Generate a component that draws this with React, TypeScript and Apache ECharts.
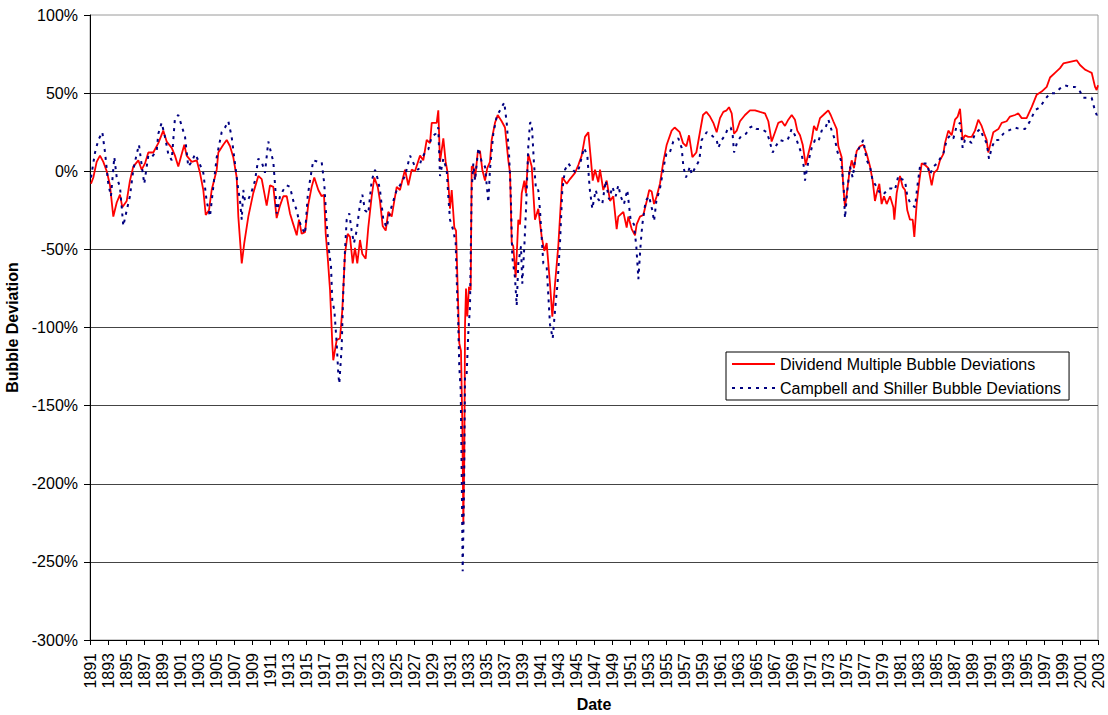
import React, { useEffect, useRef } from "react";
import * as echarts from "echarts";

const seriesNames = [
  "Dividend Multiple Bubble Deviations",
  "Campbell and Shiller Bubble Deviations",
];

// [year, bubble deviation %]
const dividendMultiple: [number, number][] = [
  [1891.11,-8],[1891.37,-4],[1891.74,6],[1892.11,10],[1892.48,6],[1892.86,0],[1893.22,-9],[1893.59,-29],[1893.97,-20],[1894.33,-15],[1894.59,-23],[1895.08,-19],[1895.44,-6],[1895.81,3],[1896.37,7],[1896.74,1],[1897.11,5],[1897.48,12],[1898.03,12],[1898.59,18],[1899.14,26],[1899.52,19],[1900.08,15],[1900.44,10],[1900.81,3],[1901.19,11],[1901.48,17],[1901.74,10],[1902.3,6],[1902.86,7],[1903.22,-1],[1903.59,-12],[1903.86,-28],[1904.22,-25],[1904.52,-12],[1905.08,1],[1905.26,12],[1905.81,17],[1906.19,20],[1906.56,16],[1906.92,9],[1907.3,-4],[1907.48,-29],[1907.86,-59],[1908.14,-46],[1908.59,-29],[1909.14,-14],[1909.7,-3],[1910.08,-5],[1910.63,-22],[1911.0,-9],[1911.37,-10],[1911.74,-30],[1912.11,-22],[1912.48,-16],[1912.86,-16],[1913.22,-27],[1913.59,-34],[1913.97,-41],[1914.22,-31],[1914.52,-40],[1914.89,-39],[1915.26,-21],[1915.63,-10],[1915.92,-4],[1916.37,-12],[1916.74,-16],[1917.0,-15],[1917.19,-40],[1917.41,-55],[1917.67,-76],[1917.92,-110],[1918.03,-121],[1918.41,-108],[1918.78,-107],[1919.03,-89],[1919.33,-53],[1919.63,-40],[1919.89,-42],[1920.19,-59],[1920.44,-49],[1920.7,-59],[1921.0,-44],[1921.26,-53],[1921.63,-56],[1921.92,-36],[1922.3,-16],[1922.59,-4],[1922.97,-10],[1923.22,-19],[1923.52,-35],[1923.86,-38],[1924.14,-26],[1924.52,-29],[1924.81,-19],[1925.08,-10],[1925.44,-12],[1926.0,1],[1926.37,-9],[1926.74,1],[1927.11,0],[1927.67,10],[1928.03,7],[1928.41,20],[1928.78,18],[1928.97,31],[1929.52,31],[1929.7,39],[1929.89,6],[1930.26,21],[1930.52,6],[1930.74,-1],[1931.0,-24],[1931.19,-12],[1931.48,-36],[1931.67,-38],[1931.86,-76],[1932.03,-110],[1932.22,-115],[1932.37,-162],[1932.48,-226],[1932.59,-183],[1932.67,-98],[1932.78,-75],[1932.92,-93],[1933.11,-74],[1933.3,-76],[1933.41,3],[1933.59,3],[1933.78,-5],[1934.08,12],[1934.33,13],[1934.59,1],[1934.89,-6],[1935.14,2],[1935.44,6],[1935.63,20],[1936.0,31],[1936.3,36],[1936.74,32],[1937.11,28],[1937.48,7],[1937.67,-1],[1937.86,-46],[1938.03,-48],[1938.3,-68],[1938.59,-31],[1938.78,-34],[1938.97,-14],[1939.26,-6],[1939.44,-14],[1939.7,11],[1940.08,3],[1940.44,-31],[1940.81,-24],[1941.19,-42],[1941.48,-51],[1941.74,-46],[1942.11,-72],[1942.37,-93],[1942.67,-72],[1943.03,-48],[1943.48,-4],[1943.97,-8],[1944.33,-5],[1944.89,-1],[1945.26,4],[1945.63,10],[1946.0,22],[1946.37,25],[1946.63,9],[1946.86,-6],[1947.11,1],[1947.48,-7],[1947.67,1],[1948.03,-12],[1948.41,-6],[1948.78,-19],[1949.14,-16],[1949.52,-37],[1949.7,-29],[1950.26,-26],[1950.63,-36],[1950.81,-29],[1951.19,-37],[1951.56,-41],[1951.74,-34],[1952.11,-29],[1952.48,-28],[1952.86,-19],[1953.14,-12],[1953.41,-13],[1953.67,-21],[1953.97,-16],[1954.33,-8],[1954.7,6],[1955.08,17],[1955.63,26],[1955.96,28],[1956.52,25],[1956.89,18],[1957.26,16],[1957.56,23],[1957.93,9],[1958.37,12],[1958.74,24],[1959.11,36],[1959.48,38],[1959.89,35],[1960.26,31],[1960.63,25],[1961.0,34],[1961.37,38],[1961.74,39],[1962.0,41],[1962.3,37],[1962.56,24],[1962.86,26],[1963.22,32],[1963.78,36],[1964.33,39],[1964.89,39],[1965.44,38],[1966.0,37],[1966.37,32],[1966.74,19],[1967.11,25],[1967.48,31],[1967.86,32],[1968.22,29],[1968.59,33],[1968.97,36],[1969.33,33],[1969.59,26],[1969.89,23],[1970.19,17],[1970.52,4],[1970.81,11],[1971.19,20],[1971.44,29],[1971.74,26],[1972.11,34],[1972.48,36],[1973.03,39],[1973.3,36],[1973.59,32],[1973.97,27],[1974.15,16],[1974.52,9],[1974.7,-10],[1974.89,-23],[1975.14,-12],[1975.37,-1],[1975.63,7],[1975.89,2],[1976.19,13],[1976.56,16],[1976.92,17],[1977.3,11],[1977.67,3],[1977.96,-6],[1978.22,-19],[1978.41,-14],[1978.7,-8],[1978.96,-21],[1979.22,-16],[1979.52,-21],[1979.89,-16],[1980.26,-23],[1980.37,-31],[1980.63,-14],[1981.0,-3],[1981.3,-10],[1981.56,-12],[1981.81,-25],[1982.11,-31],[1982.41,-31],[1982.59,-42],[1982.85,-21],[1983.15,-6],[1983.41,5],[1983.78,4],[1984.15,2],[1984.52,-9],[1984.78,-1],[1985.15,1],[1985.44,7],[1985.81,11],[1986.0,18],[1986.37,26],[1986.74,23],[1987.11,33],[1987.41,35],[1987.67,40],[1987.96,20],[1988.22,23],[1988.59,22],[1988.96,22],[1989.33,26],[1989.7,33],[1990.07,29],[1990.37,24],[1990.63,20],[1990.81,12],[1991.07,18],[1991.37,25],[1991.93,27],[1992.3,31],[1992.85,32],[1993.22,35],[1993.78,36],[1994.15,37],[1994.52,34],[1995.07,34],[1995.63,41],[1996.19,49],[1996.74,51],[1997.3,54],[1997.67,60],[1998.22,63],[1998.78,66],[1999.15,69],[1999.89,70],[2000.63,71],[2001.0,68],[2001.56,65],[2001.93,64],[2002.3,63],[2002.67,54],[2002.85,52],[2003.0,55],
];

const campbellShiller: [number, number][] = [
  [1891.11,-4],[1891.56,12],[1891.92,20],[1892.37,25],[1892.67,12],[1893.03,-8],[1893.33,-16],[1893.7,9],[1893.97,-4],[1894.33,-10],[1894.7,-35],[1895.08,-25],[1895.44,-16],[1895.81,1],[1896.19,11],[1896.44,17],[1896.74,4],[1897.03,-8],[1897.48,10],[1897.85,9],[1898.41,13],[1898.59,24],[1898.96,31],[1899.33,22],[1899.7,11],[1900.08,7],[1900.44,34],[1900.81,36],[1901.19,29],[1901.56,22],[1901.92,3],[1902.3,6],[1902.67,11],[1903.03,7],[1903.59,-1],[1903.96,-19],[1904.33,-29],[1904.7,-10],[1905.08,9],[1905.63,25],[1906.0,28],[1906.37,32],[1906.74,22],[1907.11,5],[1907.48,-12],[1907.67,-19],[1907.86,-31],[1908.03,-12],[1908.22,-19],[1908.59,-18],[1908.96,-13],[1909.33,-6],[1909.7,8],[1910.08,6],[1910.44,-1],[1910.81,19],[1911.11,12],[1911.37,6],[1911.63,-14],[1911.74,-27],[1912.11,-16],[1912.48,-12],[1912.86,-9],[1913.22,-10],[1913.59,-19],[1913.97,-25],[1914.15,-30],[1914.52,-36],[1914.89,-40],[1915.19,-16],[1915.44,-6],[1915.81,7],[1916.37,6],[1916.74,6],[1917.03,-8],[1917.3,-34],[1917.56,-51],[1917.78,-61],[1917.92,-83],[1918.15,-89],[1918.41,-110],[1918.59,-130],[1918.7,-136],[1918.96,-113],[1919.15,-76],[1919.33,-51],[1919.52,-31],[1919.81,-27],[1920.07,-38],[1920.33,-46],[1920.63,-38],[1921.0,-21],[1921.26,-15],[1921.56,-25],[1921.92,-27],[1922.3,-6],[1922.67,1],[1922.97,-5],[1923.22,-12],[1923.59,-31],[1923.96,-36],[1924.33,-26],[1924.7,-19],[1925.08,-12],[1925.44,-9],[1926.0,-3],[1926.56,10],[1927.11,3],[1927.48,1],[1927.85,8],[1928.22,12],[1928.59,14],[1928.96,22],[1929.41,24],[1929.7,28],[1929.89,-3],[1930.26,8],[1930.63,1],[1930.81,-16],[1931.0,-31],[1931.37,-38],[1931.63,-46],[1931.81,-81],[1931.92,-98],[1932.03,-125],[1932.19,-140],[1932.3,-194],[1932.41,-256],[1932.56,-204],[1932.67,-130],[1932.85,-130],[1933.03,-104],[1933.22,-87],[1933.41,-12],[1933.59,5],[1933.78,-6],[1934.15,15],[1934.52,6],[1934.89,3],[1935.26,-20],[1935.44,1],[1935.81,24],[1936.19,35],[1936.74,41],[1937.03,44],[1937.3,31],[1937.56,11],[1937.74,-12],[1937.92,-55],[1938.22,-68],[1938.41,-86],[1938.59,-59],[1938.89,-48],[1939.03,-72],[1939.26,-48],[1939.44,-25],[1939.7,16],[1939.89,31],[1940.08,31],[1940.33,5],[1940.56,-12],[1940.81,-12],[1941.0,-25],[1941.37,-59],[1941.74,-61],[1942.11,-98],[1942.41,-107],[1942.67,-89],[1942.96,-71],[1943.22,-46],[1943.48,-12],[1943.78,1],[1944.15,5],[1944.52,2],[1944.96,-1],[1945.33,2],[1945.89,15],[1946.26,10],[1946.52,-11],[1946.81,-24],[1947.19,-12],[1947.48,-18],[1947.92,-21],[1948.3,-6],[1948.67,-18],[1949.04,-10],[1949.41,-16],[1949.7,-9],[1949.96,-16],[1950.33,-21],[1950.7,-12],[1951.07,-31],[1951.44,-34],[1951.7,-48],[1951.93,-69],[1952.19,-46],[1952.37,-34],[1952.74,-19],[1953.11,-16],[1953.48,-25],[1953.67,-32],[1953.93,-19],[1954.33,-11],[1954.85,6],[1955.04,11],[1955.37,11],[1955.81,19],[1956.37,21],[1956.74,15],[1956.93,3],[1957.22,-4],[1957.67,3],[1957.85,-2],[1958.22,2],[1958.7,7],[1958.96,20],[1959.52,25],[1959.89,24],[1960.26,22],[1960.63,20],[1960.81,15],[1961.19,20],[1961.56,23],[1961.92,28],[1962.19,28],[1962.41,23],[1962.56,12],[1962.93,19],[1963.41,23],[1963.89,24],[1964.33,28],[1964.7,29],[1965.07,27],[1965.63,27],[1966.19,25],[1966.48,20],[1966.85,12],[1967.3,17],[1967.67,20],[1968.22,19],[1968.59,21],[1968.96,27],[1969.33,23],[1969.7,17],[1970.07,11],[1970.37,1],[1970.44,-6],[1970.81,6],[1971.19,15],[1971.56,20],[1971.93,19],[1972.3,26],[1972.67,27],[1973.04,33],[1973.41,26],[1973.78,20],[1974.07,12],[1974.44,7],[1974.74,-10],[1974.89,-30],[1975.15,-12],[1975.44,3],[1975.74,-4],[1976.11,11],[1976.56,16],[1976.92,20],[1977.3,7],[1977.67,3],[1977.96,-6],[1978.41,-10],[1978.78,-14],[1979.15,-15],[1979.7,-11],[1980.07,-11],[1980.44,-12],[1980.81,-3],[1981.19,-5],[1981.56,-6],[1981.81,-16],[1982.11,-20],[1982.41,-22],[1982.67,-23],[1982.92,-10],[1983.22,3],[1983.59,5],[1983.96,5],[1984.33,-2],[1984.7,3],[1985.15,5],[1985.44,8],[1985.81,11],[1986.19,20],[1986.56,23],[1986.93,21],[1987.3,29],[1987.67,31],[1987.96,15],[1988.22,20],[1988.59,20],[1988.96,18],[1989.33,24],[1989.89,27],[1990.26,22],[1990.63,18],[1990.89,8],[1991.19,15],[1991.56,20],[1991.93,20],[1992.48,24],[1993.04,26],[1993.78,28],[1994.33,27],[1994.89,27],[1995.44,32],[1996.0,39],[1996.56,41],[1997.11,46],[1997.67,50],[1998.22,50],[1998.78,53],[1999.33,55],[1999.89,54],[2000.44,54],[2001.0,51],[2001.37,47],[2001.93,47],[2002.3,47],[2002.56,41],[2002.85,36],[2003.0,37],
];

const xMin = 1891;
const xMax = 2003;
const xStep = 2;
const yMin = -300;
const yMax = 100;
const yStep = 50;

const FONT = "Arial, 'Liberation Sans', sans-serif";

export default function App() {
  const ref = useRef<HTMLDivElement>(null);

  useEffect(() => {
    document.body.style.margin = "0";
    if (!ref.current) return;
    const chart = echarts.init(ref.current, undefined, { renderer: "svg" });
    chart.setOption({
      animation: false,
      backgroundColor: "#ffffff",
      textStyle: { fontFamily: FONT },
      grid: {
        left: 90,
        right: 10,
        top: 15,
        bottom: 75,
        containLabel: false,
        outerBoundsMode: "none",
        show: true,
        borderColor: "#9a9a9a",
        borderWidth: 1,
        backgroundColor: "#ffffff",
      },
      legend: {
        orient: "vertical",
        left: 726,
        top: 352,
        backgroundColor: "#ffffff",
        borderColor: "#000000",
        borderWidth: 1,
        borderRadius: 0,
        padding: [4, 8, 4, 5],
        itemWidth: 43,
        itemHeight: 14,
        itemGap: 8,
        itemStyle: { opacity: 0 },
        textStyle: { fontSize: 16, lineHeight: 16, color: "#000", fontFamily: FONT },
        data: seriesNames,
      },
      xAxis: {
        type: "value",
        min: xMin,
        max: xMax,
        interval: xStep,
        name: "Date",
        nameLocation: "middle",
        nameGap: 56,
        nameTextStyle: { fontSize: 16, fontWeight: "bold", color: "#000", fontFamily: FONT },
        axisLine: { show: true, onZero: false, lineStyle: { color: "#000", width: 1 } },
        axisTick: { show: true, length: 5, lineStyle: { color: "#000" } },
        axisLabel: {
          rotate: 90,
          fontSize: 16,
          color: "#000",
          margin: 13,
          fontFamily: FONT,
          formatter: (v: number) => String(Math.round(v)),
        },
        splitLine: { show: false },
      },
      yAxis: {
        type: "value",
        min: yMin,
        max: yMax,
        interval: yStep,
        name: "Bubble Deviation",
        nameLocation: "middle",
        nameGap: 60,
        nameTextStyle: { fontSize: 16, fontWeight: "bold", color: "#000", fontFamily: FONT },
        axisLine: { show: true, lineStyle: { color: "#000", width: 1 } },
        axisTick: { show: true, length: 6, lineStyle: { color: "#000" } },
        axisLabel: {
          fontSize: 16,
          color: "#000",
          margin: 12,
          fontFamily: FONT,
          formatter: (v: number) => `${v}%`,
        },
        splitLine: {
          show: true,
          showMinLine: false,
          showMaxLine: false,
          lineStyle: { color: "#444", width: 1 },
        },
      },
      series: [
        {
          name: seriesNames[0],
          type: "line",
          data: dividendMultiple,
          symbol: "none",
          showSymbol: false,
          lineStyle: { color: "#ff0000", width: 1.8 },
          itemStyle: { color: "#ff0000" },
          z: 2,
        },
        {
          name: seriesNames[1],
          type: "line",
          data: campbellShiller,
          symbol: "none",
          showSymbol: false,
          lineStyle: { color: "#000080", width: 2, type: [3, 5] },
          itemStyle: { color: "#000080" },
          z: 3,
        },
      ],
    });
    return () => chart.dispose();
  }, []);

  return (
    <div
      ref={ref}
      style={{ position: "fixed", left: 0, top: 0, width: 1108, height: 715, background: "#fff" }}
    />
  );
}
